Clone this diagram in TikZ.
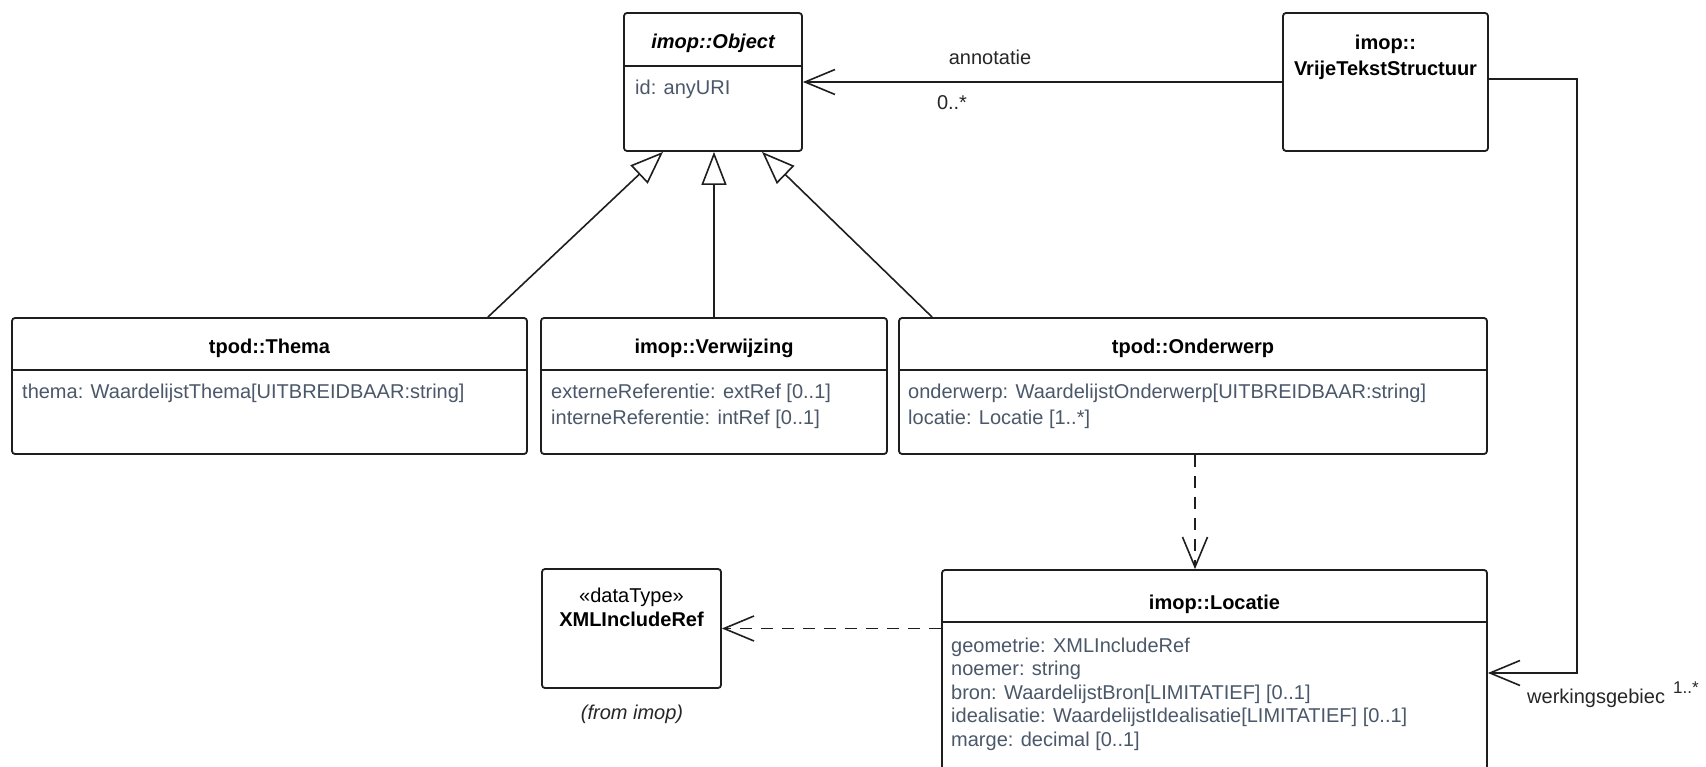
\documentclass[tikz,border=0pt]{standalone}
\usepackage{fontspec}
\setmainfont{Liberation Sans}
\usetikzlibrary{arrows.meta}
\definecolor{attrcol}{RGB}{75,88,105}
\definecolor{linecol}{RGB}{30,30,30}
\begin{document}
\begin{tikzpicture}[x=1pt,y=-1pt,
  umlbox/.style={draw=linecol, line width=1.8pt, rounded corners=3pt, inner sep=0pt, fill=white},
  divider/.style={draw=linecol, line width=1.8pt},
  title/.style={font=\bfseries\fontsize{20}{24}\selectfont, inner sep=0pt, anchor=base},
  titleit/.style={font=\bfseries\itshape\fontsize{20}{24}\selectfont, inner sep=0pt, anchor=base},
  attr/.style={text=attrcol, font=\fontsize{20}{24}\selectfont, inner sep=0pt, anchor=base west},
  lbl/.style={text=black!85, font=\fontsize{20}{24}\selectfont, inner sep=0pt, anchor=base},
  assoc/.style={draw=linecol, line width=1.6pt, -{Straight Barb[length=30pt,width=25pt]}},
  gen/.style={draw=linecol, line width=1.6pt, -{Triangle[open,length=33pt,width=25pt]}},
  dep/.style={assoc, dash pattern=on 12pt off 9pt}]
\useasboundingbox (0,0) rectangle (1706,767);
\clip (0,0) rectangle (1706,767);
\fill[white] (0,0) rectangle (1706,767);

% boxes
\node[umlbox, minimum width=178pt, minimum height=138pt] (obj) at (713,82) {};
\node[umlbox, minimum width=205pt, minimum height=138pt] (vts) at (1385.5,82) {};
\node[umlbox, minimum width=515pt, minimum height=136pt] (thema) at (269.5,386) {};
\node[umlbox, minimum width=346pt, minimum height=136pt] (verw) at (714,386) {};
\node[umlbox, minimum width=588pt, minimum height=136pt] (ond) at (1193,386) {};
\node[umlbox, minimum width=179pt, minimum height=119pt] (xml) at (631.5,628.5) {};
\node[umlbox, minimum width=545pt, minimum height=240pt] (loc) at (1214.5,690) {};

% dividers
\draw[divider] ([yshift=-54pt]obj.north west) -- ([yshift=-54pt]obj.north east);
\draw[divider] ([yshift=-53pt]thema.north west) -- ([yshift=-53pt]thema.north east);
\draw[divider] ([yshift=-53pt]verw.north west) -- ([yshift=-53pt]verw.north east);
\draw[divider] ([yshift=-53pt]ond.north west) -- ([yshift=-53pt]ond.north east);
\draw[divider] ([yshift=-53pt]loc.north west) -- ([yshift=-53pt]loc.north east);

% texts
\node[titleit] (objt) at (713,49) {imop::Object};
\node[attr] (obja1) at (635,95) {id: anyURI};

\node[title] (vtst1) at (1385.5,50) {imop::};
\node[title] (vtst2) at (1385.5,76) {VrijeTekstStructuur};

\node[title] (themat) at (269.5,354) {tpod::Thema};
\node[attr] (themaa1) at (22,399) {thema: WaardelijstThema[UITBREIDBAAR:string]};

\node[title] (verwt) at (714,354) {imop::Verwijzing};
\node[attr] (verwa1) at (551,399) {externeReferentie: extRef [0..1]};
\node[attr] (verwa2) at (551,424) {interneReferentie: intRef [0..1]};

\node[title] (ondt) at (1193,354) {tpod::Onderwerp};
\node[attr] (onda1) at (908,399) {onderwerp: WaardelijstOnderwerp[UITBREIDBAAR:string]};
\node[attr] (onda2) at (908,424) {locatie: Locatie [1..*]};

\node[title] (loct) at (1214.5,609) {imop::Locatie};
\node[attr] (loca1) at (951,652) {geometrie: XMLIncludeRef};
\node[attr] (loca2) at (951,675.5) {noemer: string};
\node[attr] (loca3) at (951,699) {bron: WaardelijstBron[LIMITATIEF] [0..1]};
\node[attr] (loca4) at (951,722.5) {idealisatie: WaardelijstIdealisatie[LIMITATIEF] [0..1]};
\node[attr] (loca5) at (951,746) {marge: decimal [0..1]};

\node[lbl, text=black] (xmls) at (631.5,602) {«dataType»};
\node[title] (xmlt) at (631.5,626) {XMLIncludeRef};
\node[lbl, font=\itshape\fontsize{20}{24}\selectfont] (xmlf) at (632,719) {(from imop)};

% connectors
\draw[assoc] (vts.west) -- (obj.east);
\node[lbl] (annl) at (990,65) {annotatie};
\node[lbl] (annm) at (952,110) {0..*};

\coordinate (wk) at (1577,673);
\draw[assoc] ([yshift=3pt]vts.east) -| (wk) -- (loc.east |- wk);
\node[lbl, anchor=base west] (wkl) at (1527,703) {werkingsgebiec};
\node[lbl, anchor=base west, font=\fontsize{17}{20}\selectfont] (wkm) at (1673,693) {1..*};

\draw[gen] ([xshift=-40pt]thema.north east) -- ([xshift=-50pt]obj.south);
\draw[gen] (verw.north) -- (verw.north |- obj.south);
\draw[gen] ([xshift=34pt]ond.north west) -- ([xshift=49pt]obj.south);

\draw[dep] ([xshift=2pt]ond.south) -- ([xshift=2pt]ond.south |- loc.north);
\draw[dep] (loc.north west |- xml.east) -- (xml.east);
\end{tikzpicture}
\end{document}
